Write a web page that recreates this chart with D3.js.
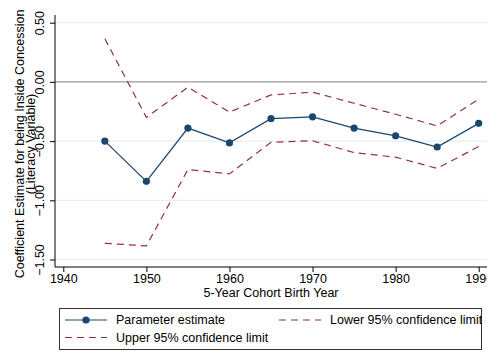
<!DOCTYPE html>
<html>
<head>
<meta charset="utf-8">
<script src="https://cdn.jsdelivr.net/npm/d3@7"></script>
<style>
  body { margin: 0; background: #fff; }
  svg { display: block; font-family: "Liberation Sans", Arial, sans-serif; }
</style>
</head>
<body>
<svg width="487" height="352"></svg>
<script>
var years = [1945, 1950, 1955, 1960, 1965, 1970, 1975, 1980, 1985, 1990];
var estimate = [-0.50, -0.84, -0.39, -0.515, -0.31, -0.295, -0.39, -0.455, -0.55, -0.35];
var upperCI = [0.365, -0.30, -0.045, -0.255, -0.11, -0.087, -0.18, -0.273, -0.372, -0.146];
var lowerCI = [-1.363, -1.385, -0.74, -0.777, -0.51, -0.497, -0.597, -0.636, -0.73, -0.546];
var yTicks = [0.5, 0, -0.5, -1, -1.5];
var xTicks = [1940, 1950, 1960, 1970, 1980, 1990];
var legendLabels = ["Parameter estimate", "Lower 95% confidence limit", "Upper 95% confidence limit"];

var navy = "#1a476f";
var maroon = "#90353b";
var fs = 12.5;

var svg = d3.select("svg");

var x = d3.scaleLinear().domain([1940, 1990]).range([63.3, 478.7]);
var y = d3.scaleLinear().domain([-1.5, 0.5]).range([259.5, 22.7]);

// gridlines
svg.append("g")
  .selectAll("line")
  .data(yTicks.filter((d) => d !== 0))
  .enter()
  .append("line")
  .attr("x1", 55)
  .attr("x2", 487)
  .attr("y1", (d) => y(d))
  .attr("y2", (d) => y(d))
  .attr("stroke", "#e8eff1")
  .attr("stroke-width", 1.2);

// zero line
svg.append("line")
  .attr("x1", 55)
  .attr("x2", 487)
  .attr("y1", y(0))
  .attr("y2", y(0))
  .attr("stroke", "#9a9a9a")
  .attr("stroke-width", 1.3);

// y axis
var yAxis = svg.append("g")
  .attr("transform", "translate(55,0)")
  .call(d3.axisLeft(y).tickValues(yTicks).tickSize(5).tickFormat(d3.format(".2f")));
yAxis.select(".domain").remove();
yAxis.append("line")
  .attr("y1", 15)
  .attr("y2", 267)
  .attr("stroke", "#000");
yAxis.selectAll(".tick text")
  .attr("transform", "rotate(-90)")
  .attr("text-anchor", "middle")
  .attr("x", 0)
  .attr("dy", 0)
  .attr("y", -11)
  .attr("font-size", fs)
  .attr("fill", "#000")
  .attr("font-family", null);

// x axis
var xAxis = svg.append("g")
  .attr("transform", "translate(0,267)")
  .call(d3.axisBottom(x).tickValues(xTicks).tickSize(5).tickFormat(d3.format("d")));
xAxis.select(".domain").remove();
xAxis.append("line")
  .attr("x1", 55)
  .attr("x2", 487)
  .attr("stroke", "#000");
xAxis.selectAll(".tick text")
  .attr("font-size", fs)
  .attr("fill", "#000")
  .attr("font-family", null)
  .attr("y", 7);

// axis titles
svg.append("text")
  .attr("transform", "translate(24," + 144 + ") rotate(-90)")
  .attr("text-anchor", "middle")
  .attr("font-size", fs)
  .text("Coefficient Estimate for being Inside Concession");
svg.append("text")
  .attr("transform", "translate(35," + 144 + ") rotate(-90)")
  .attr("text-anchor", "middle")
  .attr("font-size", fs)
  .text("(Literacy Variable)");
svg.append("text")
  .attr("x", 271)
  .attr("y", 297)
  .attr("text-anchor", "middle")
  .attr("font-size", fs)
  .text("5-Year Cohort Birth Year");

// lines
var line = d3.line()
  .x((d, i) => x(years[i]))
  .y((d) => y(d));

svg.append("path")
  .datum(upperCI)
  .attr("d", line)
  .attr("fill", "none")
  .attr("stroke", maroon)
  .attr("stroke-width", 1.2)
  .attr("stroke-dasharray", "7,5");

svg.append("path")
  .datum(lowerCI)
  .attr("d", line)
  .attr("fill", "none")
  .attr("stroke", maroon)
  .attr("stroke-width", 1.2)
  .attr("stroke-dasharray", "7,5");

svg.append("path")
  .datum(estimate)
  .attr("d", line)
  .attr("fill", "none")
  .attr("stroke", navy)
  .attr("stroke-width", 1.3);

svg.append("g")
  .selectAll("circle")
  .data(estimate)
  .enter()
  .append("circle")
  .attr("cx", (d, i) => x(years[i]))
  .attr("cy", (d) => y(d))
  .attr("r", 3.6)
  .attr("fill", navy);

// legend
var legend = svg.append("g");
legend.append("rect")
  .attr("x", 59.5)
  .attr("y", 308.5)
  .attr("width", 422)
  .attr("height", 41)
  .attr("fill", "#fff")
  .attr("stroke", "#333")
  .attr("stroke-width", 1);

var items = [
  { label: legendLabels[0], x: 65, y: 320, dash: null, color: navy, marker: true },
  { label: legendLabels[1], x: 279, y: 320, dash: "7,5", color: maroon, marker: false },
  { label: legendLabels[2], x: 65, y: 337.5, dash: "7,5", color: maroon, marker: false }
];
var li = legend.selectAll(".item")
  .data(items)
  .enter()
  .append("g")
  .attr("class", "item");
li.append("line")
  .attr("x1", (d) => d.x)
  .attr("x2", (d) => d.x + 42)
  .attr("y1", (d) => d.y)
  .attr("y2", (d) => d.y)
  .attr("stroke", (d) => d.color)
  .attr("stroke-width", 1.2)
  .attr("stroke-dasharray", (d) => d.dash);
li.filter((d) => d.marker)
  .append("circle")
  .attr("cx", (d) => d.x + 21)
  .attr("cy", (d) => d.y)
  .attr("r", 3.6)
  .attr("fill", navy);
li.append("text")
  .attr("x", (d) => d.x + 51)
  .attr("y", (d) => d.y + 4.4)
  .attr("font-size", fs)
  .text((d) => d.label);
</script>
</body>
</html>
